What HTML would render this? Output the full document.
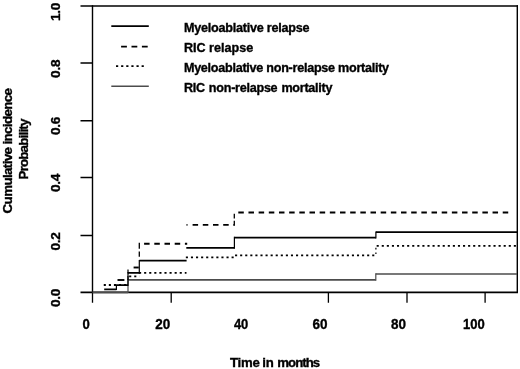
<!DOCTYPE html>
<html><head><meta charset="utf-8">
<style>
html,body{margin:0;padding:0;background:#fff;}
body{width:520px;height:369px;overflow:hidden;}
svg{display:block;}
text{font-family:"Liberation Sans",Arial,Helvetica,sans-serif;font-weight:bold;font-size:12.6px;fill:#000;stroke:#000;stroke-width:0.35px;}
</style></head><body>
<svg width="520" height="369" viewBox="0 0 520 369">
<rect width="520" height="369" fill="#fff"/>
<!-- plot box -->
<g stroke="#000" fill="none">
<path d="M92.5 5.2V293.1M517.3 5.2V293.1" stroke-width="1.4"/>
<path d="M80.5 6H518" stroke-width="1.6"/>
<path d="M80.5 292.4H518" stroke-width="1.7"/>
</g>
<!-- y ticks -->
<g stroke="#000">
<path d="M80.5 63H92.5M80.5 120.7H92.5M80.5 177.6H92.5M80.5 235.6H92.5" stroke-width="1.5"/>
<!-- x ticks -->
<path d="M92.5 292.3V302.7M171.2 292.3V302.7M328.4 292.3V302.7M407 292.3V302.7M485.1 292.3V302.7" stroke-width="1.3"/>
</g>
<!-- curves -->
<g fill="none" stroke-linejoin="miter">
<!-- grey: RIC NRM -->
<path d="M92.5 292.3H128M128 279.9H375.8M375.8 274H517" stroke="#4c4c4c" stroke-width="1.7"/>
<path d="M128 293V279.1M375.8 280.7V273.2" stroke="#4c4c4c" stroke-width="1.2"/>
<!-- dotted: Myeloablative NRM -->
<g stroke="#000" stroke-width="1.9" stroke-dasharray="2.1 2.98">
<path d="M103.75 285.0H128.0"/>
<path d="M129.15 276.4H139.4"/>
<path d="M139.05 272.9H186.5"/>
<path d="M185.85 257.4H234.3"/>
<path d="M235.05 255.4H375.9"/>
<path d="M376.65 245.9H517.0"/>
<path d="M375.9 254V247" stroke-width="1.2" stroke-dasharray="1.6 3"/>
</g>
<!-- dashed: RIC relapse -->
<g stroke="#000" stroke-width="1.9">
<path d="M117.5 280H124.4"/>
<path d="M128 280V267.5" stroke-width="1.2" stroke-dasharray="4 2.5"/>
<path d="M133.6 267.5H138.8"/>
<path d="M139.3 242.7V262" stroke-width="1.3" stroke-dasharray="6 2.7 5.4 20"/>
<path d="M139.3 243.7H187.2" stroke-dasharray="5.5 4.7" stroke-dashoffset="-4.8"/>
<path d="M186.5 224.9H234.3" stroke-dasharray="1 5.1 5.5 4.7 5.5 4.7 5.5 4.7 5.5 4.7 5.5 4.7"/>
<path d="M234.3 225.8V213.8" stroke-width="1.3" stroke-dasharray="5 2.3 4.7 3"/>
<path d="M238.3 212.5H509" stroke-dasharray="5.5 4.67"/>
</g>
<!-- solid: Myeloablative relapse -->
<path d="M104.2 289.3H116.4M116.4 285.2H128M128 272.9H139.3M139.3 260.7H186.6M186.3 247.9H234.4M234.4 237.6H375.9M375.9 232.2H517" stroke="#000" stroke-width="1.7"/>
<path d="M116.4 290.1V284.4M128 286V272.1M139.3 273.7V259.9M234.4 248.7V236.8M375.9 238.4V231.4" stroke="#000" stroke-width="1.2"/>
</g>
<!-- legend -->
<g fill="none" stroke-width="1.8">
<line x1="111.3" y1="26.2" x2="148.8" y2="26.2" stroke="#000"/>
<path d="M121.1 46.7H126.9M131.5 46.7H137.3M141.9 46.7H147.7" stroke="#000"/>
<line x1="116" y1="66.2" x2="144" y2="66.2" stroke="#000" stroke-dasharray="2.2 2.92"/>
<line x1="111.3" y1="86.2" x2="148.8" y2="86.2" stroke="#4c4c4c" stroke-width="1.5"/>
</g>
<g>
<text x="183.9" y="32.1" textLength="125.7" lengthAdjust="spacing">Myeloablative relapse</text>
<text x="183.9" y="52.2" textLength="69.3" lengthAdjust="spacing">RIC relapse</text>
<text x="183.9" y="72.2" textLength="205.2" lengthAdjust="spacing">Myeloablative non-relapse mortality</text>
<text x="183.9" y="92.2" textLength="148.6" style="word-spacing:0.8px" lengthAdjust="spacing">RIC non-relapse mortality</text>
</g>
<!-- x labels -->
<g font-size="12.9">
<text x="82.5" y="329" textLength="7.3" lengthAdjust="spacingAndGlyphs" style="font-size:14px">0</text>
<text x="155.3" y="329" textLength="15" lengthAdjust="spacingAndGlyphs" style="font-size:14px">20</text>
<text x="233.9" y="329" textLength="14.4" lengthAdjust="spacingAndGlyphs" style="font-size:14px">40</text>
<text x="312.5" y="329" textLength="15" lengthAdjust="spacingAndGlyphs" style="font-size:14px">60</text>
<text x="391" y="329" textLength="15" lengthAdjust="spacingAndGlyphs" style="font-size:14px">80</text>
<text x="463" y="329" textLength="21.7" lengthAdjust="spacingAndGlyphs" style="font-size:14px">100</text>
</g>
<text y="367.3" style="font-size:13.2px"><tspan x="230" textLength="29.8" lengthAdjust="spacing">Time</tspan> <tspan x="262.2" textLength="11.6" lengthAdjust="spacing">in</tspan> <tspan x="277.3" textLength="42.8" lengthAdjust="spacing">months</tspan></text>
<!-- y labels (rotated) -->
<g style="font-size:13.8px">
<text transform="translate(60.2,21.0) rotate(-90)" textLength="18.5" lengthAdjust="spacing" style="font-size:13.7px">1.0</text>
<text transform="translate(60.2,77.9) rotate(-90)" textLength="18.5" lengthAdjust="spacing" style="font-size:13.7px">0.8</text>
<text transform="translate(60.2,135.0) rotate(-90)" textLength="18.5" lengthAdjust="spacing" style="font-size:13.7px">0.6</text>
<text transform="translate(60.2,192.0) rotate(-90)" textLength="18.5" lengthAdjust="spacing" style="font-size:13.7px">0.4</text>
<text transform="translate(60.2,250.6) rotate(-90)" textLength="18.5" lengthAdjust="spacing" style="font-size:13.7px">0.2</text>
<text transform="translate(60.2,307.0) rotate(-90)" textLength="18.5" lengthAdjust="spacing" style="font-size:13.7px">0.0</text>
</g>
<text transform="translate(11.6,213.4) rotate(-90)" textLength="125.4" lengthAdjust="spacing" style="font-size:13.4px">Cumulative incidence</text>
<text transform="translate(27.5,179.6) rotate(-90)" textLength="61" lengthAdjust="spacing" style="font-size:13.4px">Probability</text>
</svg>
</body></html>
